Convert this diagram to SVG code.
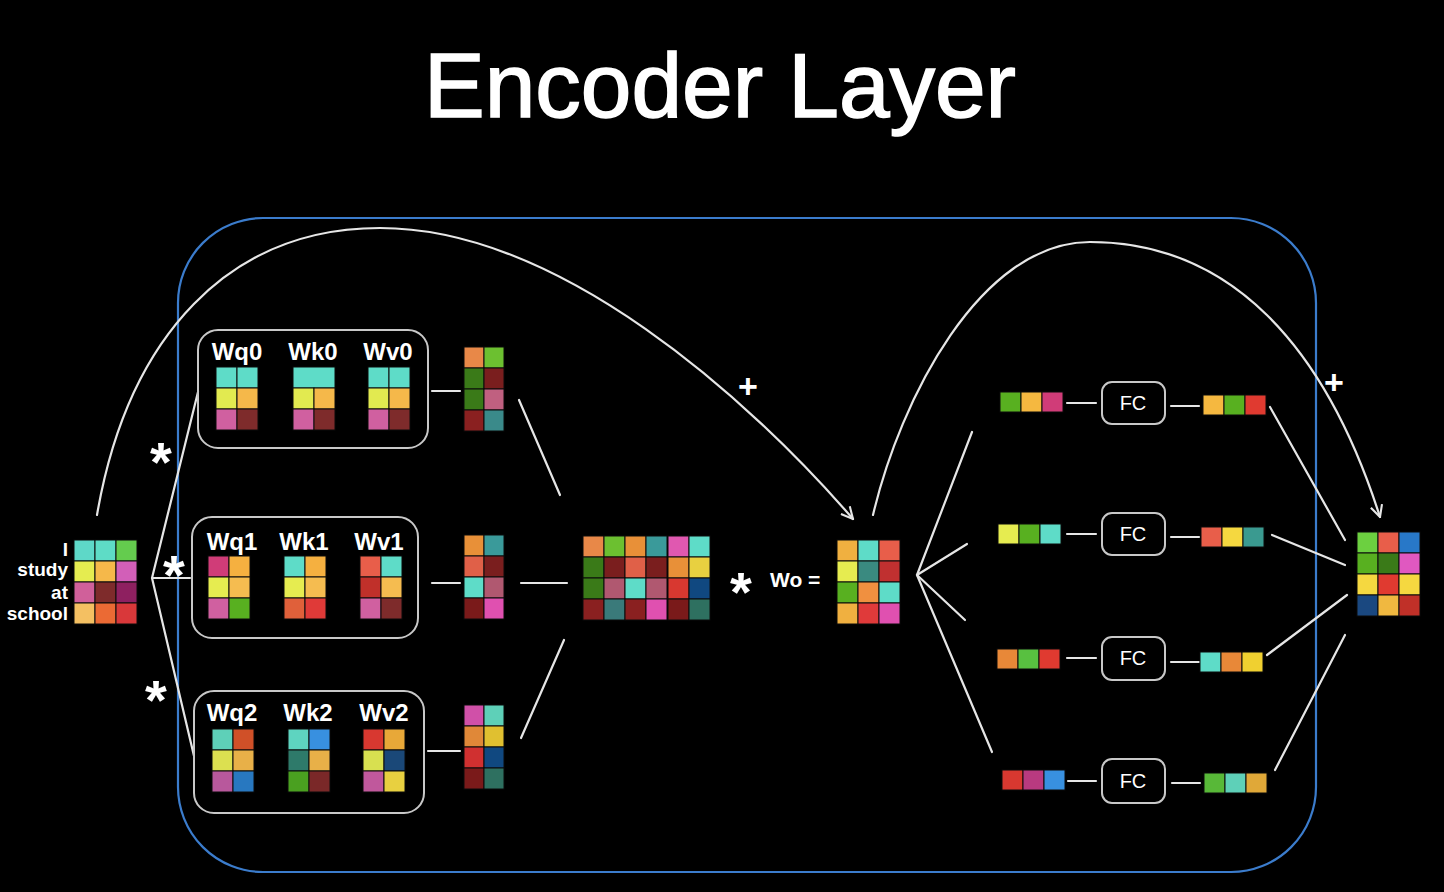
<svg xmlns="http://www.w3.org/2000/svg" width="1444" height="892" viewBox="0 0 1444 892">
<defs>
<style>
.c{stroke:#0a0a0a;stroke-width:1}
.ln{stroke:#e6e6e6;stroke-width:2.2;fill:none;stroke-linecap:round}
.box{fill:none;stroke:#c8c8c8;stroke-width:2}
.lbl{font-family:"Liberation Sans",Arial,sans-serif;font-weight:bold;fill:#fff}
.fc{font-family:"Liberation Sans",Arial,sans-serif;font-size:20px;fill:#fff;text-anchor:middle}
.star{font-family:"Liberation Sans",Arial,sans-serif;font-weight:bold;fill:#fff;font-size:56px;text-anchor:middle}
</style>
<marker id="arr" viewBox="0 0 12 12" refX="11" refY="6" markerWidth="14" markerHeight="14" markerUnits="userSpaceOnUse" orient="auto">
<path d="M1,1 L11,6 L1,11" fill="none" stroke="#e6e6e6" stroke-width="1.8"/>
</marker>
</defs>
<rect x="0" y="0" width="1444" height="892" fill="#000"/>
<text x="720" y="117" font-family="Liberation Sans,Arial,sans-serif" font-size="91" fill="#fff" stroke="#fff" stroke-width="1.6" text-anchor="middle">Encoder Layer</text>
<rect id="encoder-frame" x="178" y="218" width="1138" height="654" rx="85" fill="none" stroke="#3b7ccc" stroke-width="2.2"/>

<g id="connectors">
<path class="ln" d="M97,515 C128,335 230,228 380,228 C560,228 750,400 853,519" marker-end="url(#arr)"/>
<path class="ln" d="M873,515 C900,400 980,242 1090,242 C1230,242 1325,345 1380,517" marker-end="url(#arr)"/>
<line class="ln" x1="152" y1="578" x2="198" y2="392"/>
<line class="ln" x1="152" y1="578" x2="190" y2="578"/>
<line class="ln" x1="152" y1="578" x2="194" y2="756"/>
<line class="ln" x1="432" y1="391" x2="460" y2="391"/>
<line class="ln" x1="432" y1="583" x2="460" y2="583"/>
<line class="ln" x1="428" y1="751" x2="460" y2="751"/>
<line class="ln" x1="519" y1="400" x2="560" y2="495"/>
<line class="ln" x1="521" y1="583" x2="567" y2="583"/>
<line class="ln" x1="521" y1="738" x2="564" y2="640"/>
<line class="ln" x1="917" y1="575" x2="972" y2="432"/>
<line class="ln" x1="917" y1="575" x2="967" y2="544"/>
<line class="ln" x1="917" y1="575" x2="965" y2="620"/>
<line class="ln" x1="917" y1="575" x2="992" y2="752"/>
<line class="ln" x1="1067" y1="403" x2="1096" y2="403"/>
<line class="ln" x1="1171" y1="406" x2="1199" y2="406"/>
<line class="ln" x1="1067" y1="534" x2="1096" y2="534"/>
<line class="ln" x1="1171" y1="537" x2="1199" y2="537"/>
<line class="ln" x1="1067" y1="658" x2="1096" y2="658"/>
<line class="ln" x1="1171" y1="662" x2="1199" y2="662"/>
<line class="ln" x1="1068" y1="781" x2="1096" y2="781"/>
<line class="ln" x1="1172" y1="783" x2="1200" y2="783"/>
<line class="ln" x1="1270" y1="407" x2="1345" y2="540"/>
<line class="ln" x1="1272" y1="535" x2="1345" y2="565"/>
<line class="ln" x1="1267" y1="655" x2="1347" y2="595"/>
<line class="ln" x1="1275" y1="770" x2="1345" y2="635"/>
</g>

<g id="signs">
<text class="lbl" x="748" y="398" font-size="34" text-anchor="middle">+</text>
<text class="lbl" x="1334" y="394" font-size="34" text-anchor="middle">+</text>
<text class="star" x="161" y="481">*</text>
<text class="star" x="174" y="594">*</text>
<text class="star" x="156" y="719">*</text>
<text class="star" x="741" y="611">*</text>
</g>

<g id="input">
<text class="lbl" font-size="19" text-anchor="end" x="68" y="556">I</text>
<text class="lbl" font-size="19" text-anchor="end" x="68" y="576">study</text>
<text class="lbl" font-size="19" text-anchor="end" x="68" y="599">at</text>
<text class="lbl" font-size="19" text-anchor="end" x="68" y="620">school</text>
<rect class="c" x="74" y="540" width="21" height="21" fill="#5ed8c8"/>
<rect class="c" x="95" y="540" width="21" height="21" fill="#5edcc6"/>
<rect class="c" x="116" y="540" width="21" height="21" fill="#64cc4e"/>
<rect class="c" x="74" y="561" width="21" height="21" fill="#e5ec50"/>
<rect class="c" x="95" y="561" width="21" height="21" fill="#f5b84a"/>
<rect class="c" x="116" y="561" width="21" height="21" fill="#d25fb8"/>
<rect class="c" x="74" y="582" width="21" height="21" fill="#d0609a"/>
<rect class="c" x="95" y="582" width="21" height="21" fill="#7e2b2b"/>
<rect class="c" x="116" y="582" width="21" height="21" fill="#8e2060"/>
<rect class="c" x="74" y="603" width="21" height="21" fill="#f4c062"/>
<rect class="c" x="95" y="603" width="21" height="21" fill="#eb6a34"/>
<rect class="c" x="116" y="603" width="21" height="21" fill="#d9383a"/>
</g>

<g id="head0">
<rect class="box" x="198" y="330" width="230" height="118" rx="20"/>
<text class="lbl" font-size="24" text-anchor="middle" x="237" y="360">Wq0</text>
<text class="lbl" font-size="24" text-anchor="middle" x="313" y="360">Wk0</text>
<text class="lbl" font-size="24" text-anchor="middle" x="388" y="360">Wv0</text>
<rect class="c" x="216" y="367" width="21" height="21" fill="#5edcc8"/>
<rect class="c" x="237" y="367" width="21" height="21" fill="#5edcc8"/>
<rect class="c" x="216" y="388" width="21" height="21" fill="#e2ea50"/>
<rect class="c" x="237" y="388" width="21" height="21" fill="#f5b84a"/>
<rect class="c" x="216" y="409" width="21" height="21" fill="#d060a0"/>
<rect class="c" x="237" y="409" width="21" height="21" fill="#7e2b2b"/>
<rect class="c" x="293" y="367" width="42" height="21" fill="#5edcc8"/>
<rect class="c" x="293" y="388" width="21" height="21" fill="#e2ea50"/>
<rect class="c" x="314" y="388" width="21" height="21" fill="#f5b84a"/>
<rect class="c" x="293" y="409" width="21" height="21" fill="#d060a0"/>
<rect class="c" x="314" y="409" width="21" height="21" fill="#7e2b2b"/>
<rect class="c" x="368" y="367" width="21" height="21" fill="#5edcc8"/>
<rect class="c" x="389" y="367" width="21" height="21" fill="#5edcc8"/>
<rect class="c" x="368" y="388" width="21" height="21" fill="#e2ea50"/>
<rect class="c" x="389" y="388" width="21" height="21" fill="#f5b84a"/>
<rect class="c" x="368" y="409" width="21" height="21" fill="#d060a0"/>
<rect class="c" x="389" y="409" width="21" height="21" fill="#7e2b2b"/>
</g>

<g id="head1">
<rect class="box" x="192" y="517" width="226" height="121" rx="20"/>
<text class="lbl" font-size="24" text-anchor="middle" x="232" y="550">Wq1</text>
<text class="lbl" font-size="24" text-anchor="middle" x="304" y="550">Wk1</text>
<text class="lbl" font-size="24" text-anchor="middle" x="379" y="550">Wv1</text>
<rect class="c" x="208" y="556" width="21" height="21" fill="#d03c78"/>
<rect class="c" x="229" y="556" width="21" height="21" fill="#f5b040"/>
<rect class="c" x="208" y="577" width="21" height="21" fill="#e6ec50"/>
<rect class="c" x="229" y="577" width="21" height="21" fill="#f5bc50"/>
<rect class="c" x="208" y="598" width="21" height="21" fill="#d060a0"/>
<rect class="c" x="229" y="598" width="21" height="21" fill="#58b020"/>
<rect class="c" x="284" y="556" width="21" height="21" fill="#5edcc8"/>
<rect class="c" x="305" y="556" width="21" height="21" fill="#f5b040"/>
<rect class="c" x="284" y="577" width="21" height="21" fill="#e6ec50"/>
<rect class="c" x="305" y="577" width="21" height="21" fill="#f5bc50"/>
<rect class="c" x="284" y="598" width="21" height="21" fill="#e0603a"/>
<rect class="c" x="305" y="598" width="21" height="21" fill="#e03a38"/>
<rect class="c" x="360" y="556" width="21" height="21" fill="#e85e4a"/>
<rect class="c" x="381" y="556" width="21" height="21" fill="#5edcc8"/>
<rect class="c" x="360" y="577" width="21" height="21" fill="#c0302a"/>
<rect class="c" x="381" y="577" width="21" height="21" fill="#f5bc50"/>
<rect class="c" x="360" y="598" width="21" height="21" fill="#d060a0"/>
<rect class="c" x="381" y="598" width="21" height="21" fill="#7e2b2b"/>
</g>

<g id="head2">
<rect class="box" x="194" y="691" width="230" height="122" rx="20"/>
<text class="lbl" font-size="24" text-anchor="middle" x="232" y="721">Wq2</text>
<text class="lbl" font-size="24" text-anchor="middle" x="308" y="721">Wk2</text>
<text class="lbl" font-size="24" text-anchor="middle" x="384" y="721">Wv2</text>
<rect class="c" x="212" y="729" width="21" height="21" fill="#5ed0b8"/>
<rect class="c" x="233" y="729" width="21" height="21" fill="#d05028"/>
<rect class="c" x="212" y="750" width="21" height="21" fill="#dce050"/>
<rect class="c" x="233" y="750" width="21" height="21" fill="#e8b048"/>
<rect class="c" x="212" y="771" width="21" height="21" fill="#b8589c"/>
<rect class="c" x="233" y="771" width="21" height="21" fill="#2878c0"/>
<rect class="c" x="288" y="729" width="21" height="21" fill="#5ed4c0"/>
<rect class="c" x="309" y="729" width="21" height="21" fill="#3890e0"/>
<rect class="c" x="288" y="750" width="21" height="21" fill="#2e7a6a"/>
<rect class="c" x="309" y="750" width="21" height="21" fill="#e8b048"/>
<rect class="c" x="288" y="771" width="21" height="21" fill="#4aa020"/>
<rect class="c" x="309" y="771" width="21" height="21" fill="#7a2828"/>
<rect class="c" x="363" y="729" width="21" height="21" fill="#d83830"/>
<rect class="c" x="384" y="729" width="21" height="21" fill="#e8a838"/>
<rect class="c" x="363" y="750" width="21" height="21" fill="#d8e050"/>
<rect class="c" x="384" y="750" width="21" height="21" fill="#1a4878"/>
<rect class="c" x="363" y="771" width="21" height="21" fill="#c0589c"/>
<rect class="c" x="384" y="771" width="21" height="21" fill="#e8d040"/>
</g>

<g id="z0">
<rect class="c" x="464" y="347" width="20" height="21" fill="#e88848"/>
<rect class="c" x="484" y="347" width="20" height="21" fill="#6cc030"/>
<rect class="c" x="464" y="368" width="20" height="21" fill="#3a7a18"/>
<rect class="c" x="484" y="368" width="20" height="21" fill="#7a1e1e"/>
<rect class="c" x="464" y="389" width="20" height="21" fill="#3a7a18"/>
<rect class="c" x="484" y="389" width="20" height="21" fill="#c06080"/>
<rect class="c" x="464" y="410" width="20" height="21" fill="#8a2020"/>
<rect class="c" x="484" y="410" width="20" height="21" fill="#3a8a8a"/>
</g>
<g id="z1">
<rect class="c" x="464" y="535" width="20" height="21" fill="#e89038"/>
<rect class="c" x="484" y="535" width="20" height="21" fill="#3a9a9a"/>
<rect class="c" x="464" y="556" width="20" height="21" fill="#e06048"/>
<rect class="c" x="484" y="556" width="20" height="21" fill="#7a1e1e"/>
<rect class="c" x="464" y="577" width="20" height="21" fill="#5edcc8"/>
<rect class="c" x="484" y="577" width="20" height="21" fill="#b05870"/>
<rect class="c" x="464" y="598" width="20" height="21" fill="#7a1a1a"/>
<rect class="c" x="484" y="598" width="20" height="21" fill="#e050b0"/>
</g>
<g id="z2">
<rect class="c" x="464" y="705" width="20" height="21" fill="#d050a8"/>
<rect class="c" x="484" y="705" width="20" height="21" fill="#5ed0b8"/>
<rect class="c" x="464" y="726" width="20" height="21" fill="#e08838"/>
<rect class="c" x="484" y="726" width="20" height="21" fill="#e0c030"/>
<rect class="c" x="464" y="747" width="20" height="21" fill="#d03030"/>
<rect class="c" x="484" y="747" width="20" height="21" fill="#104880"/>
<rect class="c" x="464" y="768" width="20" height="21" fill="#7a1a1a"/>
<rect class="c" x="484" y="768" width="20" height="21" fill="#2e7060"/>
</g>

<g id="concat">
<rect class="c" x="583" y="536" width="21" height="21" fill="#e88848"/>
<rect class="c" x="604" y="536" width="21" height="21" fill="#6cc030"/>
<rect class="c" x="625" y="536" width="21" height="21" fill="#e89038"/>
<rect class="c" x="646" y="536" width="21" height="21" fill="#3a9a9a"/>
<rect class="c" x="668" y="536" width="21" height="21" fill="#e058b0"/>
<rect class="c" x="689" y="536" width="21" height="21" fill="#5edcc8"/>
<rect class="c" x="583" y="557" width="21" height="21" fill="#3a7a18"/>
<rect class="c" x="604" y="557" width="21" height="21" fill="#7a1e1e"/>
<rect class="c" x="625" y="557" width="21" height="21" fill="#e06048"/>
<rect class="c" x="646" y="557" width="21" height="21" fill="#7a1e1e"/>
<rect class="c" x="668" y="557" width="21" height="21" fill="#e89038"/>
<rect class="c" x="689" y="557" width="21" height="21" fill="#e8d040"/>
<rect class="c" x="583" y="578" width="21" height="21" fill="#3a7a18"/>
<rect class="c" x="604" y="578" width="21" height="21" fill="#b05870"/>
<rect class="c" x="625" y="578" width="21" height="21" fill="#5edcc8"/>
<rect class="c" x="646" y="578" width="21" height="21" fill="#b05870"/>
<rect class="c" x="668" y="578" width="21" height="21" fill="#d83830"/>
<rect class="c" x="689" y="578" width="21" height="21" fill="#104880"/>
<rect class="c" x="583" y="599" width="21" height="21" fill="#8a2020"/>
<rect class="c" x="604" y="599" width="21" height="21" fill="#3a7a7a"/>
<rect class="c" x="625" y="599" width="21" height="21" fill="#8a2020"/>
<rect class="c" x="646" y="599" width="21" height="21" fill="#e050b0"/>
<rect class="c" x="668" y="599" width="21" height="21" fill="#7a1a1a"/>
<rect class="c" x="689" y="599" width="21" height="21" fill="#2e7060"/>
</g>

<g id="wo">
<text class="lbl" font-size="21" x="770" y="587">Wo =</text>
<rect class="c" x="837" y="540" width="21" height="21" fill="#f0b040"/>
<rect class="c" x="858" y="540" width="21" height="21" fill="#5edcc8"/>
<rect class="c" x="879" y="540" width="21" height="21" fill="#e85e4a"/>
<rect class="c" x="837" y="561" width="21" height="21" fill="#e6ec50"/>
<rect class="c" x="858" y="561" width="21" height="21" fill="#3a8a80"/>
<rect class="c" x="879" y="561" width="21" height="21" fill="#c03030"/>
<rect class="c" x="837" y="582" width="21" height="21" fill="#58b020"/>
<rect class="c" x="858" y="582" width="21" height="21" fill="#f09040"/>
<rect class="c" x="879" y="582" width="21" height="21" fill="#5edcc8"/>
<rect class="c" x="837" y="603" width="21" height="21" fill="#f0b040"/>
<rect class="c" x="858" y="603" width="21" height="21" fill="#e03a3a"/>
<rect class="c" x="879" y="603" width="21" height="21" fill="#e050b0"/>
</g>

<g id="fc-row0">
<rect class="c" x="1000" y="392" width="21" height="20" fill="#58b020"/>
<rect class="c" x="1021" y="392" width="21" height="20" fill="#f5b840"/>
<rect class="c" x="1042" y="392" width="21" height="20" fill="#d03c78"/>
<rect class="box" x="1102" y="382" width="63" height="42" rx="10"/>
<text class="fc" x="1133" y="410">FC</text>
<rect class="c" x="1203" y="395" width="21" height="20" fill="#f5b840"/>
<rect class="c" x="1224" y="395" width="21" height="20" fill="#58b020"/>
<rect class="c" x="1245" y="395" width="21" height="20" fill="#e03a30"/>
</g>
<g id="fc-row1">
<rect class="c" x="998" y="524" width="21" height="20" fill="#e6ec50"/>
<rect class="c" x="1019" y="524" width="21" height="20" fill="#58b020"/>
<rect class="c" x="1040" y="524" width="21" height="20" fill="#5edcc8"/>
<rect class="box" x="1102" y="513" width="63" height="42" rx="10"/>
<text class="fc" x="1133" y="541">FC</text>
<rect class="c" x="1201" y="527" width="21" height="20" fill="#e85e4a"/>
<rect class="c" x="1222" y="527" width="21" height="20" fill="#f5d840"/>
<rect class="c" x="1243" y="527" width="21" height="20" fill="#3a9a90"/>
</g>
<g id="fc-row2">
<rect class="c" x="997" y="649" width="21" height="20" fill="#e88838"/>
<rect class="c" x="1018" y="649" width="21" height="20" fill="#58c040"/>
<rect class="c" x="1039" y="649" width="21" height="20" fill="#e03a30"/>
<rect class="box" x="1102" y="637" width="63" height="43" rx="10"/>
<text class="fc" x="1133" y="665">FC</text>
<rect class="c" x="1200" y="652" width="21" height="20" fill="#5edcc8"/>
<rect class="c" x="1221" y="652" width="21" height="20" fill="#e88838"/>
<rect class="c" x="1242" y="652" width="21" height="20" fill="#f0d030"/>
</g>
<g id="fc-row3">
<rect class="c" x="1002" y="770" width="21" height="20" fill="#d83830"/>
<rect class="c" x="1023" y="770" width="21" height="20" fill="#b83a80"/>
<rect class="c" x="1044" y="770" width="21" height="20" fill="#3890e0"/>
<rect class="box" x="1102" y="759" width="63" height="44" rx="10"/>
<text class="fc" x="1133" y="788">FC</text>
<rect class="c" x="1204" y="773" width="21" height="20" fill="#58b838"/>
<rect class="c" x="1225" y="773" width="21" height="20" fill="#5ed0b8"/>
<rect class="c" x="1246" y="773" width="21" height="20" fill="#e0a838"/>
</g>

<g id="output">
<rect class="c" x="1357" y="532" width="21" height="21" fill="#6cd040"/>
<rect class="c" x="1378" y="532" width="21" height="21" fill="#e85e4a"/>
<rect class="c" x="1399" y="532" width="21" height="21" fill="#2878c8"/>
<rect class="c" x="1357" y="553" width="21" height="21" fill="#58b020"/>
<rect class="c" x="1378" y="553" width="21" height="21" fill="#3a7a18"/>
<rect class="c" x="1399" y="553" width="21" height="21" fill="#e058c0"/>
<rect class="c" x="1357" y="574" width="21" height="21" fill="#f5d840"/>
<rect class="c" x="1378" y="574" width="21" height="21" fill="#e03a30"/>
<rect class="c" x="1399" y="574" width="21" height="21" fill="#f5d840"/>
<rect class="c" x="1357" y="595" width="21" height="21" fill="#1a4880"/>
<rect class="c" x="1378" y="595" width="21" height="21" fill="#f0b840"/>
<rect class="c" x="1399" y="595" width="21" height="21" fill="#c03028"/>
</g>
</svg>
